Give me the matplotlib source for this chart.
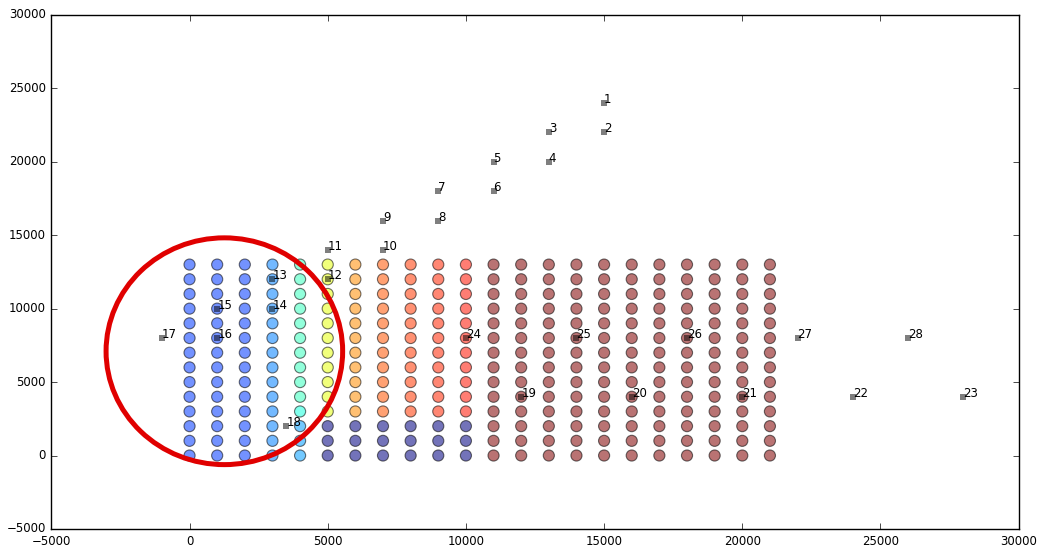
import matplotlib
matplotlib.use("Agg")
import numpy as np
import matplotlib.pyplot as plt
from matplotlib.patches import Ellipse

plt.style.use("classic")

# grid of sample points
grid_x = [0, 1000, 2000, 3000, 4000, 5000, 6000, 7000, 8000, 9000, 10000,
          11000, 12000, 13000, 14000, 15000, 16000, 17000, 18000, 19000,
          20000, 21000]
grid_y = [0, 1000, 2000, 3000, 4000, 5000, 6000, 7000, 8000, 9000, 10000,
          11000, 12000, 13000]

# colour value (jet) per column, for rows y >= 3000 and for rows y <= 2000
col_upper = [0.18, 0.18, 0.18, 0.25, 0.42, 0.63, 0.76, 0.82, 0.85, 0.87, 0.89,
             1.0, 1.0, 1.0, 1.0, 1.0, 1.0, 1.0, 1.0, 1.0, 1.0, 1.0]
col_lower = [0.18, 0.18, 0.18, 0.25, 0.28, 0.0, 0.0, 0.0, 0.0, 0.0, 0.0,
             1.0, 1.0, 1.0, 1.0, 1.0, 1.0, 1.0, 1.0, 1.0, 1.0, 1.0]
lower_rows = [0, 1000, 2000]
special_cells = {(4000, 3000): 0.38}

# labelled stations
station_ids = list(range(1, 29))
station_x = [15000, 15000, 13000, 13000, 11000, 11000, 9000, 9000, 7000, 7000,
             5000, 5000, 3000, 3000, 1000, 1000, -1000, 3500, 12000, 16000,
             20000, 24000, 28000, 10000, 14000, 18000, 22000, 26000]
station_y = [24000, 22000, 22000, 20000, 20000, 18000, 18000, 16000, 16000, 14000,
             14000, 12000, 12000, 10000, 10000, 8000, 8000, 2000, 4000, 4000,
             4000, 4000, 4000, 8000, 8000, 8000, 8000, 8000]

# highlighted region
circle_center = (1260, 7100)
circle_w = 8560
circle_h = 15440


def main():
    fig = plt.figure(figsize=(10.48, 5.51), dpi=100, facecolor="white")
    ax = fig.add_axes([0.049, 0.040, 0.923, 0.933])

    xs, ys, cs = [], [], []
    for i, gx in enumerate(grid_x):
        for gy in grid_y:
            if (gx, gy) in special_cells:
                c = special_cells[(gx, gy)]
            elif gy in lower_rows:
                c = col_lower[i]
            else:
                c = col_upper[i]
            xs.append(gx)
            ys.append(gy)
            cs.append(c)

    ax.scatter(xs, ys, c=cs, cmap="jet", vmin=0, vmax=1, s=64, alpha=0.55,
               edgecolors="k", linewidths=0.8, zorder=2)

    ax.scatter(station_x, station_y, marker="s", s=20, c="k", alpha=0.5,
               linewidths=0, zorder=3)
    for sid, sx, sy in zip(station_ids, station_x, station_y):
        ax.annotate(str(sid), (sx, sy), fontsize=8.5, zorder=4)

    ax.add_patch(Ellipse(circle_center, circle_w, circle_h, fill=False,
                         ec="#e00000", lw=3.6, zorder=5))

    ax.set_xlim(-5000, 30000)
    ax.set_ylim(-5000, 30000)
    ax.set_xticks(np.arange(-5000, 30001, 5000))
    ax.set_yticks(np.arange(-5000, 30001, 5000))
    ax.tick_params(labelsize=8.5)

    fig.savefig("out.png", dpi=100, facecolor="white")


if __name__ == "__main__":
    main()
